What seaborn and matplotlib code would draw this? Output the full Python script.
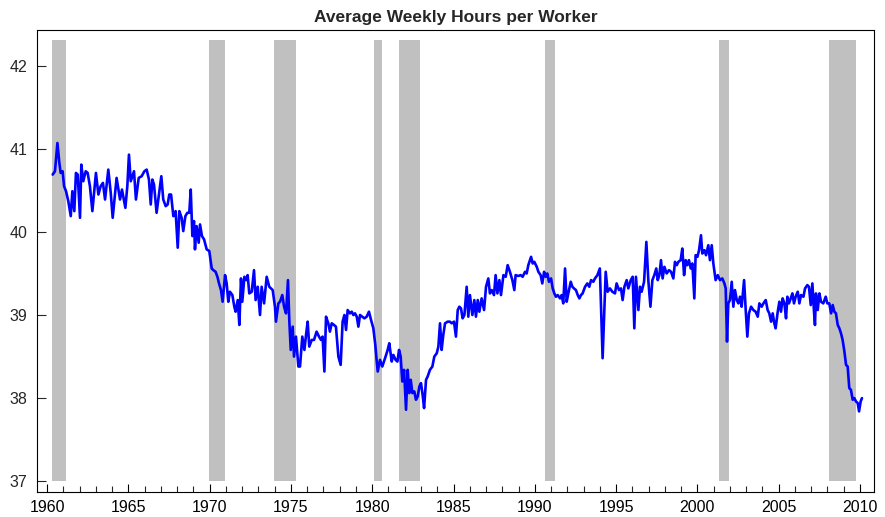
import matplotlib
matplotlib.use("Agg")
import matplotlib.pyplot as plt
from matplotlib.ticker import MultipleLocator
import pandas as pd
import seaborn as sns

# values (decimal year, hours)
dates = [
    1960.35, 1960.49, 1960.64, 1960.76, 1960.84, 1960.96, 1961.05, 1961.17, 1961.31, 1961.46,
    1961.56, 1961.68, 1961.78, 1961.89, 1962.03, 1962.11, 1962.23, 1962.38, 1962.50, 1962.64,
    1962.79, 1963.01, 1963.16, 1963.30, 1963.44, 1963.57, 1963.77, 1963.92, 1964.04, 1964.28,
    1964.49, 1964.61, 1964.82, 1964.94, 1965.04, 1965.15, 1965.35, 1965.47, 1965.64, 1965.82,
    1965.99, 1966.13, 1966.27, 1966.38, 1966.48, 1966.58, 1966.74,
    1967.03, 1967.15, 1967.30, 1967.42, 1967.52, 1967.63, 1967.77, 1967.91, 1968.04, 1968.14,
    1968.28, 1968.38, 1968.51, 1968.63, 1968.75, 1968.84, 1968.94, 1969.04, 1969.10, 1969.20,
    1969.33, 1969.41, 1969.53, 1969.66, 1969.82, 1969.98,
    1970.13, 1970.23, 1970.37, 1970.48, 1970.58, 1970.70, 1970.80, 1970.95, 1971.05, 1971.15,
    1971.25, 1971.40, 1971.52, 1971.60, 1971.73, 1971.83, 1971.93, 1972.01, 1972.14, 1972.26,
    1972.34, 1972.44, 1972.59, 1972.73, 1972.83, 1972.96, 1973.10, 1973.20, 1973.35, 1973.51,
    1973.67,
    1973.88, 1974.02, 1974.08, 1974.23, 1974.33, 1974.47, 1974.58, 1974.70, 1974.82, 1974.90,
    1974.99, 1975.11, 1975.19, 1975.31, 1975.46, 1975.56, 1975.70, 1975.83, 1975.93, 1976.03,
    1976.13, 1976.28, 1976.42, 1976.58, 1976.73, 1976.85, 1976.95, 1977.06, 1977.16, 1977.30,
    1977.40, 1977.51, 1977.65, 1977.77, 1977.92, 1978.06, 1978.18, 1978.29, 1978.39, 1978.49,
    1978.63, 1978.74, 1978.84, 1978.94, 1979.05, 1979.15, 1979.25, 1979.39, 1979.52, 1979.66,
    1979.80, 1979.93, 1980.07, 1980.19, 1980.27, 1980.34, 1980.48, 1980.62, 1980.79, 1980.95,
    1981.05,
    1981.20, 1981.30, 1981.44, 1981.55, 1981.65, 1981.75, 1981.85, 1981.96, 1982.08, 1982.18,
    1982.28, 1982.37, 1982.47, 1982.59, 1982.69, 1982.80, 1982.90, 1983.00, 1983.10, 1983.19,
    1983.31, 1983.41, 1983.55, 1983.70, 1983.82, 1983.97, 1984.07, 1984.17, 1984.27, 1984.37,
    1984.48, 1984.64, 1984.78, 1984.89, 1985.03, 1985.15, 1985.26, 1985.36, 1985.46, 1985.56,
    1985.67, 1985.81, 1985.91, 1986.01, 1986.16, 1986.28, 1986.38, 1986.49, 1986.59, 1986.73,
    1986.88, 1987.00, 1987.14, 1987.24, 1987.35, 1987.49, 1987.59, 1987.70, 1987.82, 1987.92,
    1988.07, 1988.21, 1988.33, 1988.47,
    1988.62, 1988.74, 1988.82, 1988.99, 1989.13, 1989.25, 1989.40, 1989.50, 1989.60, 1989.77,
    1989.87, 1989.97, 1990.12, 1990.22, 1990.36, 1990.46, 1990.57, 1990.67, 1990.77, 1990.87,
    1991.00, 1991.10, 1991.20, 1991.30, 1991.41, 1991.55, 1991.65, 1991.75, 1991.86, 1991.96,
    1992.06, 1992.21, 1992.31, 1992.41, 1992.53, 1992.64, 1992.74, 1992.84, 1992.94, 1993.09,
    1993.23, 1993.35, 1993.46, 1993.60, 1993.70, 1993.85, 1994.00, 1994.17, 1994.36, 1994.48,
    1994.62, 1994.77, 1994.93,
    1995.03, 1995.18, 1995.30, 1995.40, 1995.51, 1995.65, 1995.75, 1995.90, 1996.02, 1996.12,
    1996.22, 1996.37, 1996.47, 1996.57, 1996.72, 1996.86, 1996.98, 1997.11, 1997.23, 1997.35,
    1997.47, 1997.56, 1997.66, 1997.76, 1997.86, 1997.97, 1998.11, 1998.25, 1998.38, 1998.52,
    1998.62, 1998.73, 1998.83, 1998.97, 1999.07, 1999.18, 1999.28, 1999.38, 1999.48, 1999.59,
    1999.69, 1999.81, 1999.89, 2000.00, 2000.10, 2000.22, 2000.30, 2000.43, 2000.53, 2000.67,
    2000.77, 2000.88, 2000.98, 2001.12, 2001.25, 2001.39, 2001.53, 2001.66, 2001.74, 2001.82,
    2001.90, 2002.00, 2002.11, 2002.21, 2002.31,
    2002.42, 2002.52, 2002.62, 2002.72, 2002.87, 2002.97, 2003.07, 2003.17, 2003.30, 2003.44,
    2003.58, 2003.71, 2003.81, 2003.95, 2004.06, 2004.20, 2004.32, 2004.42, 2004.53, 2004.63,
    2004.73, 2004.81, 2004.94, 2005.04, 2005.14, 2005.24, 2005.35, 2005.45, 2005.53, 2005.63,
    2005.74, 2005.84, 2005.94, 2006.04, 2006.17, 2006.27, 2006.37, 2006.52, 2006.62, 2006.76,
    2006.86, 2006.97, 2007.07, 2007.17, 2007.23, 2007.29, 2007.40, 2007.50, 2007.60, 2007.74,
    2007.89, 2007.99, 2008.11, 2008.22, 2008.32, 2008.42, 2008.52, 2008.63, 2008.73, 2008.83,
    2008.93, 2009.04, 2009.14, 2009.24, 2009.34, 2009.44, 2009.55, 2009.65, 2009.75, 2009.86,
    2009.94, 2010.04, 2010.12,
]

hours = [
    40.69, 40.73, 41.07, 40.83, 40.71, 40.73, 40.55, 40.49, 40.37, 40.19,
    40.49, 40.25, 40.71, 40.69, 40.17, 40.81, 40.61, 40.73, 40.71, 40.55,
    40.25, 40.71, 40.45, 40.55, 40.59, 40.39, 40.75, 40.47, 40.17, 40.65,
    40.39, 40.51, 40.29, 40.55, 40.93, 40.61, 40.73, 40.39, 40.65, 40.67,
    40.73, 40.75, 40.63, 40.33, 40.63, 40.57, 40.23,
    40.67, 40.39, 40.31, 40.33, 40.45, 40.45, 40.19, 40.25, 39.81, 40.25,
    40.17, 40.01, 40.19, 40.23, 40.23, 40.51, 39.95, 40.13, 39.79, 40.07,
    39.87, 40.09, 39.95, 39.91, 39.79, 39.77,
    39.56, 39.54, 39.52, 39.46, 39.38, 39.30, 39.16, 39.48, 39.38, 39.16,
    39.28, 39.24, 39.10, 39.04, 39.18, 38.88, 39.44, 39.16, 39.46, 39.42,
    39.48, 39.26, 39.28, 39.54, 39.18, 39.34, 39.00, 39.34, 39.14, 39.46,
    39.34,
    39.30, 39.10, 38.92, 39.14, 39.16, 39.24, 39.10, 39.02, 39.42, 38.94,
    38.58, 38.86, 38.50, 38.74, 38.38, 38.38, 38.74, 38.58, 38.76, 38.92,
    38.62, 38.70, 38.70, 38.80, 38.74, 38.70, 38.74, 38.32, 38.98, 38.90,
    38.80, 38.90, 38.88, 38.86, 38.50, 38.40, 38.92, 39.00, 38.82, 39.06,
    39.02, 39.04, 39.00, 39.02, 38.98, 38.86, 39.00, 38.98, 38.96, 38.98,
    39.04, 38.94, 38.84, 38.64, 38.46, 38.32, 38.46, 38.38, 38.48, 38.58,
    38.66,
    38.44, 38.52, 38.46, 38.44, 38.58, 38.50, 38.20, 38.34, 37.86, 38.34,
    38.06, 38.22, 38.06, 38.08, 37.98, 38.02, 38.14, 38.18, 38.04, 37.88,
    38.22, 38.26, 38.34, 38.38, 38.50, 38.54, 38.62, 38.90, 38.58, 38.76,
    38.90, 38.92, 38.92, 38.90, 38.92, 38.74, 39.06, 39.10, 39.08, 38.96,
    39.00, 39.34, 38.98, 39.24, 39.00, 39.18, 38.98, 39.18, 39.04, 39.20,
    39.06, 39.34, 39.44, 39.26, 39.30, 39.24, 39.48, 39.26, 39.42, 39.24,
    39.48, 39.46, 39.60, 39.52,
    39.42, 39.30, 39.48, 39.47, 39.48, 39.46, 39.52, 39.50, 39.60, 39.70,
    39.62, 39.64, 39.58, 39.52, 39.48, 39.38, 39.52, 39.46, 39.50, 39.40,
    39.44, 39.32, 39.26, 39.22, 39.24, 39.20, 39.24, 39.14, 39.56, 39.16,
    39.26, 39.40, 39.34, 39.32, 39.30, 39.24, 39.20, 39.24, 39.26, 39.34,
    39.38, 39.34, 39.42, 39.40, 39.44, 39.48, 39.56, 38.48, 39.52, 39.28,
    39.32, 39.28, 39.26,
    39.38, 39.30, 39.32, 39.18, 39.34, 39.42, 39.32, 39.42, 39.46, 38.84,
    39.46, 39.06, 39.34, 39.28, 39.40, 39.88, 39.42, 39.10, 39.42, 39.48,
    39.56, 39.42, 39.48, 39.66, 39.44, 39.58, 39.50, 39.54, 39.52, 39.44,
    39.64, 39.60, 39.64, 39.66, 39.80, 39.48, 39.66, 39.60, 39.66, 39.56,
    39.62, 39.20, 39.72, 39.70, 39.78, 39.96, 39.74, 39.78, 39.72, 39.84,
    39.66, 39.84, 39.62, 39.42, 39.48, 39.42, 39.44, 39.38, 39.32, 38.68,
    39.14, 39.18, 39.40, 39.10, 39.30,
    39.18, 39.14, 39.22, 39.10, 39.42, 39.06, 38.74, 39.02, 39.10, 39.06,
    39.04, 38.98, 39.14, 39.10, 39.14, 39.18, 39.06, 39.02, 38.92, 39.02,
    38.90, 38.84, 39.04, 39.16, 39.04, 39.20, 39.14, 38.96, 39.22, 39.14,
    39.20, 39.26, 39.14, 39.22, 39.28, 39.14, 39.24, 39.22, 39.32, 39.36,
    39.34, 39.12, 39.38, 39.04, 38.88, 39.26, 39.06, 39.26, 39.16, 39.14,
    39.22, 39.14, 39.14, 39.02, 39.12, 39.04, 39.02, 38.88, 38.84, 38.78,
    38.70, 38.56, 38.40, 38.38, 38.12, 38.10, 37.98, 38.00, 37.96, 37.94,
    37.84, 37.96, 38.00,
]

# shaded recession periods (start, end)
rec_start = [1960.31, 1969.96, 1973.94, 1980.12, 1981.62, 1990.63, 2001.34, 2008.09]
rec_end = [1961.17, 1970.95, 1975.30, 1980.60, 1982.94, 1991.25, 2001.95, 2009.74]

df = pd.DataFrame({"date": dates, "hours": hours})

sns.set_style("ticks")
plt.rcParams["font.family"] = ["Liberation Sans", "DejaVu Sans"]

fig = plt.figure(figsize=(8.85, 5.17), dpi=100)
ax = fig.add_axes([37 / 885, 1 - 492 / 517, (874 - 37) / 885, (492 - 30) / 517])

for s, e in zip(rec_start, rec_end):
    ax.fill_between([s, e], 37, 42.31, color="#c0c0c0", lw=0, zorder=1)

sns.lineplot(data=df, x="date", y="hours", color="#0000ff", linewidth=1.9,
             estimator=None, sort=False, ax=ax, zorder=3)

ax.set_xlim(1959.385, 2010.86)
ax.set_ylim(36.87, 42.43)
ax.xaxis.set_major_locator(MultipleLocator(5))
ax.xaxis.set_minor_locator(MultipleLocator(1))
ax.yaxis.set_major_locator(MultipleLocator(1))
ax.tick_params(axis="x", which="major", direction="in", length=6, width=0.8,
               labelsize=11.5, pad=6, colors="black")
ax.tick_params(axis="x", which="minor", direction="in", length=4.5, width=0.8)
ax.tick_params(axis="y", which="major", direction="in", length=6.5, width=0.8,
               labelsize=11.5, pad=7)
ax.set_xlabel("")
ax.set_ylabel("")
for sp in ax.spines.values():
    sp.set_color("black")
    sp.set_linewidth(0.8)
ax.set_title("Average Weekly Hours per Worker", fontsize=12.5, fontweight="bold", pad=6)

fig.savefig("out.png", dpi=100)
